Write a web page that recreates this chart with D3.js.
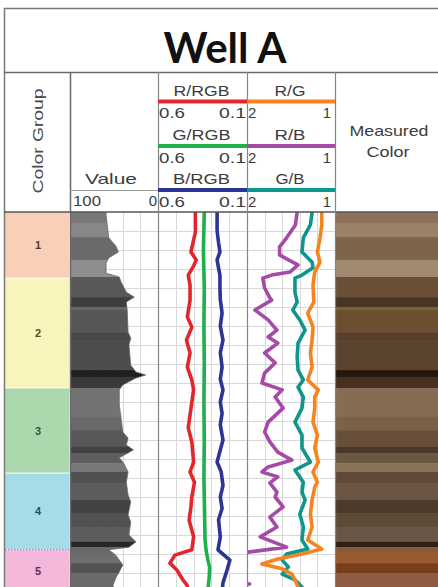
<!DOCTYPE html>
<html>
<head>
<meta charset="utf-8">
<script src="https://cdn.jsdelivr.net/npm/d3@7"></script>
<style>
body { margin: 0; background: #fff; }
svg { display: block; font-family: "Liberation Sans", Arial, sans-serif; }
</style>
</head>
<body>
<svg id="chart" width="438" height="587"></svg>
<script>
// ---- data (depth units, 0 = top of log) ----
var groupNames = ["1", "2", "3", "4", "5"];
var groupTops = [0, 17.4, 46.3, 68.7, 88.9];
var groupColors = ["#f9cfb8", "#f8f4bc", "#acd8ad", "#a6dce8", "#f4b8da"];
var groupTextColors = ["#5b3a2c", "#55501e", "#2d5a38", "#24505e", "#5e2e4e"];

var colorTops = [0, 2.9, 6.6, 12.6, 17.1, 22.4, 25, 25.8, 31.8, 33.7, 41.6, 43.4, 46.3, 53.9,
	57.4, 61.8, 63.4, 66.1, 68.4, 71.3, 75.8, 79.2, 82.9, 86.8, 88.2, 89.7, 92.4, 95];
var measuredColors = ["#8c7258", "#9a8268", "#7c634a", "#a08a72", "#6a5038", "#4a3522", "#7a5e3e",
	"#6c4e30", "#56402c", "#5a4430", "#24170c", "#463020", "#866c52", "#7a6248", "#685038",
	"#4a3828", "#6c5842", "#8a7358", "#5e4a36", "#6a5642", "#4c3a2a", "#5e4a38", "#6a5644",
	"#2e2018", "#8a5a3a", "#9a5a30", "#7a3e1c", "#8e5c40"];

var valueCurve = [[0, 59], [0.8, 59], [4.7, 57], [6.8, 56], [8.9, 48], [10.5, 45], [12.1, 56],
	[13.4, 59], [16.1, 59], [17.1, 44], [18.4, 42], [21.1, 36], [22.4, 27], [23.7, 36], [25.8, 35],
	[31.6, 34], [33.2, 31], [35, 33], [37.6, 32], [40.3, 31], [42.1, 25], [42.9, 14], [43.7, 25],
	[45.5, 40], [46.8, 44], [50.8, 44], [54.2, 42], [57.9, 40], [59.5, 34], [61.3, 36], [62.6, 28],
	[64.7, 44], [66.1, 39], [68.4, 34], [71.1, 36], [74.5, 34], [76.3, 31], [79.7, 34], [81.6, 31],
	[85, 33], [86.8, 25], [88.2, 33], [88.9, 56], [90.3, 48], [91.6, 44], [92.9, 40], [94.7, 44],
	[96.3, 48], [98.2, 51], [100, 51]];

var rRgb = [[0, 0.39], [5.3, 0.39], [7.4, 0.40], [10.5, 0.415], [12.6, 0.385], [14.2, 0.40],
	[16.6, 0.43], [19.2, 0.42], [23.2, 0.42], [27.6, 0.435], [30.3, 0.41], [33.7, 0.44], [37.1, 0.42],
	[40.8, 0.435], [44.2, 0.41], [46.8, 0.40], [53.4, 0.42], [56.8, 0.43], [60.5, 0.41], [65.8, 0.40],
	[68.4, 0.42], [71.1, 0.395], [75, 0.41], [77.6, 0.415], [81.1, 0.425], [85.5, 0.40], [88.9, 0.41],
	[90.3, 0.505], [92.4, 0.533], [94.2, 0.494], [96.8, 0.46], [98.2, 0.437], [100, 0.43]];
var gRgb = [[0, 0.34], [10, 0.345], [20, 0.34], [30, 0.342], [40, 0.34], [50, 0.342], [60, 0.34],
	[70, 0.342], [80, 0.338], [86, 0.336], [89, 0.33], [91.5, 0.32], [93.5, 0.31], [96, 0.312],
	[98.7, 0.318], [100, 0.32]];
var bRgb = [[0, 0.268], [5, 0.268], [8, 0.26], [10.5, 0.252], [12.6, 0.268], [14.7, 0.26],
	[16.6, 0.252], [20, 0.252], [23, 0.25], [26.6, 0.24], [30, 0.25], [33.7, 0.235], [37, 0.25],
	[40.8, 0.24], [44, 0.25], [46.8, 0.235], [50, 0.25], [53, 0.24], [56, 0.25], [60, 0.235],
	[65.8, 0.268], [68.4, 0.245], [72, 0.235], [75, 0.25], [78, 0.24], [81, 0.26], [85.5, 0.25],
	[88.9, 0.263], [91.6, 0.196], [94.2, 0.212], [97.6, 0.235], [100, 0.24]];

var rG = [[0, 1.15], [3.4, 1.15], [6.8, 1.17], [10.5, 1.20], [13.2, 1.17], [15.8, 1.23], [19.2, 1.25],
	[23.7, 1.24], [26.6, 1.31], [30.3, 1.25], [33.7, 1.26], [37.1, 1.28], [40.8, 1.26], [44.2, 1.31],
	[46.8, 1.19], [48.7, 1.23], [51.6, 1.23], [55.3, 1.25], [58.7, 1.20], [62.1, 1.23], [65.8, 1.19],
	[68.4, 1.25], [71.1, 1.20], [72.4, 1.23], [75.8, 1.26], [79.5, 1.28], [82.9, 1.26], [86.3, 1.31],
	[88.7, 1.15], [90, 1.375], [91.3, 1.65], [92.6, 1.83], [93.9, 1.60], [95.3, 1.49], [96.8, 1.455],
	[98.7, 1.42], [100, 1.40]];
var rB = [[0, 1.43], [3.4, 1.45], [6.8, 1.55], [9.2, 1.63], [11.3, 1.63], [12.6, 1.53], [13.9, 1.42],
	[15.8, 1.51], [16.6, 1.72], [17.4, 1.82], [20, 1.80], [22.6, 1.74], [23.2, 1.72], [25.8, 1.91],
	[28.4, 1.76], [31.1, 1.66], [32.9, 1.76], [34.5, 1.65], [37.1, 1.80], [39.7, 1.68], [42.4, 1.80],
	[45, 1.83], [46.8, 1.60], [48.7, 1.68], [51.6, 1.59], [55.3, 1.76], [57.9, 1.80], [60.5, 1.74],
	[63.2, 1.65], [65.3, 1.49], [67.1, 1.76], [68.4, 1.83], [69.7, 1.65], [71.3, 1.74], [73.7, 1.66],
	[75, 1.68], [77.6, 1.59], [80.3, 1.74], [82.9, 1.66], [85.5, 1.85], [88.2, 1.55], [89.5, 1.99],
	[90, 2.4], [96.8, 2.3], [97.9, 1.97], [98.7, 2.2], [100, 2.3]];
var gB = [[0, 1.26], [3.4, 1.28], [6.8, 1.36], [10.5, 1.375], [13.2, 1.26], [14.7, 1.25], [16.6, 1.375],
	[17.4, 1.455], [21.1, 1.455], [23.7, 1.43], [25.8, 1.48], [28.4, 1.40], [31.1, 1.34], [34.5, 1.42],
	[38.2, 1.43], [41.6, 1.42], [44.2, 1.36], [46.1, 1.42], [48.7, 1.36], [51.6, 1.375], [55.3, 1.455],
	[58.7, 1.375], [62.1, 1.375], [65.8, 1.28], [67.9, 1.455], [71.1, 1.36], [73.7, 1.375], [75.8, 1.34],
	[79.5, 1.40], [82.9, 1.36], [86.3, 1.375], [88.7, 1.31], [90, 1.55], [91.6, 1.60], [93.4, 1.53],
	[95.3, 1.60], [96.8, 1.455], [98.7, 1.375], [100, 1.36]];

var valueScaleLabels = ["100", "0"];
var rgbScaleLabels = ["0.6", "0.1"];
var ratioScaleLabels = ["2", "1"];

// ---- layout ----
var svg = d3.select("#chart");
var dataTop = 212, dataBottom = 587;
var colGroup = [4, 70], colValue = [70, 158], colRgb = [158, 247], colRatio = [247, 335], colMeas = [335, 440];

var y = d3.scaleLinear().domain([0, 100]).range([212, 592]);
var xValue = d3.scaleLinear().domain([100, 0]).range(colValue);
var xRgb = d3.scaleLinear().domain([0.6, 0.1]).range(colRgb);
var xRatio = d3.scaleLinear().domain([2, 1]).range(colRatio);

var defs = svg.append("defs");
function clipRect(id, x0, x1) {
	defs.append("clipPath").attr("id", id).append("rect")
		.attr("x", x0).attr("y", dataTop).attr("width", x1 - x0).attr("height", dataBottom - dataTop);
}
clipRect("clipRgb", colRgb[0], colRgb[1]);
clipRect("clipRatio", colRatio[0], colRatio[1]);

// color groups
groupTops.forEach(function (t, i) {
	var b = i < groupTops.length - 1 ? groupTops[i + 1] : 100;
	svg.append("rect")
		.attr("x", 5).attr("y", y(t) + 0.5)
		.attr("width", 64).attr("height", y(b) - y(t) - 1)
		.attr("fill", groupColors[i]);
	svg.append("text")
		.attr("x", 38).attr("y", y((t + Math.min(b, 100)) / 2) + 4)
		.attr("text-anchor", "middle")
		.attr("font-size", 11).attr("font-weight", "bold")
		.attr("fill", groupTextColors[i])
		.text(groupNames[i]);
});
svg.append("line")
	.attr("x1", 5).attr("x2", 69).attr("y1", y(groupTops[4])).attr("y2", y(groupTops[4]))
	.attr("stroke", "#8a5a8a").attr("stroke-width", 1).attr("stroke-dasharray", "1.5,1.5");

// grids
function grid(x, range, n) {
	var g = svg.append("g").attr("stroke", "#d8d8d8").attr("stroke-width", 1);
	x.ticks(n).forEach(function (t) {
		var px = Math.round(x(t)) + 0.5;
		if (px < range[0] + 2 || px > range[1] - 2) return;
		g.append("line").attr("x1", px).attr("x2", px).attr("y1", dataTop).attr("y2", dataBottom);
	});
	y.ticks(20).forEach(function (t) {
		var py = Math.round(y(t)) + 0.5;
		if (py <= dataTop + 1) return;
		g.append("line").attr("x1", range[0]).attr("x2", range[1]).attr("y1", py).attr("y2", py);
	});
}
grid(xValue, colValue, 5);
grid(xRgb, colRgb, 5);
grid(xRatio, colRatio, 5);

// value track: grey bands clipped by the value area
var valueArea = d3.area()
	.x0(xValue(100))
	.x1(function (d) { return xValue(d[1]); })
	.y(function (d) { return y(d[0]); });
defs.append("clipPath").attr("id", "clipValue").append("path").attr("d", valueArea(valueCurve));
var vg = svg.append("g").attr("clip-path", "url(#clipValue)");
colorTops.forEach(function (t, i) {
	var b = i < colorTops.length - 1 ? colorTops[i + 1] : 100;
	var L = d3.lab(measuredColors[i]).l;
	vg.append("rect")
		.attr("x", colValue[0]).attr("y", y(t))
		.attr("width", colValue[1] - colValue[0]).attr("height", y(b) - y(t) + 0.5)
		.attr("fill", d3.lab(L * 0.95 + 3, 0, 0).formatHex());
});
svg.append("path")
	.attr("d", d3.line().x(function (d) { return xValue(d[1]); }).y(function (d) { return y(d[0]); })(valueCurve))
	.attr("fill", "none").attr("stroke", "#6a6a6a").attr("stroke-width", 0.8);

// measured colour column
colorTops.forEach(function (t, i) {
	var b = i < colorTops.length - 1 ? colorTops[i + 1] : 100;
	svg.append("rect")
		.attr("x", colMeas[0]).attr("y", y(t))
		.attr("width", colMeas[1] - colMeas[0]).attr("height", y(b) - y(t) + 0.5)
		.attr("fill", measuredColors[i]);
});

// curves
function curve(data, x, color, clip) {
	svg.append("path")
		.attr("clip-path", "url(#" + clip + ")")
		.attr("d", d3.line().x(function (d) { return x(d[1]); }).y(function (d) { return y(d[0]); })(data))
		.attr("fill", "none").attr("stroke", color)
		.attr("stroke-width", 3.6).attr("stroke-linejoin", "round").attr("stroke-linecap", "round");
}
curve(gRgb, xRgb, "#1fb04c", "clipRgb");
curve(rRgb, xRgb, "#e3262b", "clipRgb");
curve(bRgb, xRgb, "#2c3595", "clipRgb");
curve(rB, xRatio, "#a54aa6", "clipRatio");
curve(gB, xRatio, "#0f968c", "clipRatio");
curve(rG, xRatio, "#f5841f", "clipRatio");

// frame and separators
var frame = svg.append("g").attr("fill", "none");
frame.append("rect").attr("x", 4.5).attr("y", 8.5).attr("width", 450).attr("height", 600)
	.attr("stroke", "#7a7a7a").attr("stroke-width", 1.5);
frame.append("line").attr("x1", 4).attr("x2", 438).attr("y1", 72.5).attr("y2", 72.5)
	.attr("stroke", "#6a6a6a").attr("stroke-width", 1.5);
frame.append("line").attr("x1", 4).attr("x2", 438).attr("y1", 212).attr("y2", 212)
	.attr("stroke", "#555").attr("stroke-width", 1.5);
[colValue[0], colRgb[0], colRatio[0], colMeas[0]].forEach(function (px, i) {
	frame.append("line").attr("x1", px + 0.5).attr("x2", px + 0.5).attr("y1", 72).attr("y2", 587)
		.attr("stroke", i === 0 ? "#6a6a6a" : "#858585").attr("stroke-width", i === 0 ? 1.5 : 1.2);
});
frame.append("line").attr("x1", colValue[0]).attr("x2", colValue[1]).attr("y1", 190.5).attr("y2", 190.5)
	.attr("stroke", "#9a9a9a").attr("stroke-width", 1);

// header text
function label(txt, x, yy, anchor, len, size) {
	var t = svg.append("text")
		.attr("x", x).attr("y", yy)
		.attr("text-anchor", anchor)
		.attr("font-size", size || 15)
		.attr("fill", "#3c3c3c")
		.text(txt);
	if (len) t.attr("textLength", len).attr("lengthAdjust", "spacingAndGlyphs");
	return t;
}

svg.append("text")
	.attr("x", 225).attr("y", 63)
	.attr("text-anchor", "middle")
	.attr("font-family", "Lato, 'Open Sans', sans-serif")
	.attr("font-weight", "bold").attr("font-size", 42)
	.attr("fill", "#111")
	.attr("textLength", 123).attr("lengthAdjust", "spacingAndGlyphs")
	.text("Well A");

svg.append("text")
	.attr("transform", "translate(43,141) rotate(-90)")
	.attr("text-anchor", "middle")
	.attr("font-size", 15).attr("fill", "#4a4a4a")
	.attr("textLength", 105).attr("lengthAdjust", "spacingAndGlyphs")
	.text("Color Group");

label("Value", 111, 184, "middle", 52);
label(valueScaleLabels[0], 73, 206, "start", 28);
label(valueScaleLabels[1], 157, 206, "end");

var rgbTitles = [["R/RGB", "#e3262b", 56], ["G/RGB", "#1fb04c", 58], ["B/RGB", "#2c3595", 57]];
var ratioTitles = [["R/G", "#f5841f", 31], ["R/B", "#a54aa6", 31], ["G/B", "#0f968c", 29]];
var headerLines = [101.5, 146, 190];
headerLines.forEach(function (ly, i) {
	label(rgbTitles[i][0], (colRgb[0] + colRgb[1]) / 2 - 1, ly - 6, "middle", rgbTitles[i][2]);
	label(ratioTitles[i][0], (colRatio[0] + colRatio[1]) / 2 - 1, ly - 6, "middle", ratioTitles[i][2]);
	svg.append("line").attr("x1", colRgb[0]).attr("x2", colRgb[1]).attr("y1", ly).attr("y2", ly)
		.attr("stroke", rgbTitles[i][1]).attr("stroke-width", 4);
	svg.append("line").attr("x1", colRatio[0]).attr("x2", colRatio[1]).attr("y1", ly).attr("y2", ly)
		.attr("stroke", ratioTitles[i][1]).attr("stroke-width", 4);
	label(rgbScaleLabels[0], colRgb[0] + 1, ly + 16.5, "start", 26);
	label(rgbScaleLabels[1], colRgb[1] - 1, ly + 16.5, "end", 27);
	label(ratioScaleLabels[0], colRatio[0] + 1, ly + 16.5, "start");
	label(ratioScaleLabels[1], colRatio[1] - 4, ly + 16.5, "end");
});

label("Measured", 389, 136, "middle", 79);
label("Color", 388, 157, "middle", 43);
</script>
</body>
</html>
